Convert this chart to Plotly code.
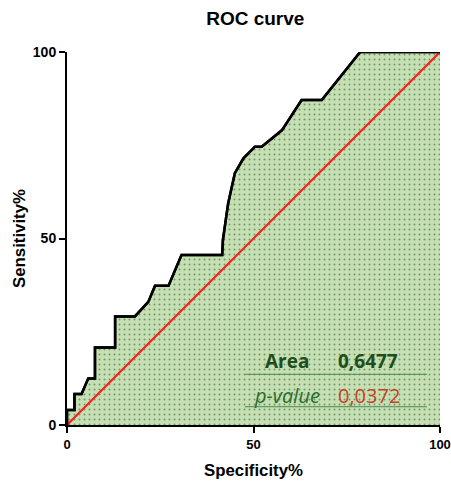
import plotly.graph_objects as go

# ROC curve points (Specificity%, Sensitivity%)
spec = [0, 0, 2.0, 2.0, 3.9, 5.7, 7.5, 7.5, 12.9, 12.9, 18.2, 21.8, 23.6, 27.2, 30.7,
        41.6, 41.8, 43.2, 45.0, 47.3, 50.4, 52.2, 57.6, 62.9, 68.3, 78.6, 100]
sens = [0, 4.0, 4.0, 8.3, 8.3, 12.5, 12.5, 20.8, 20.8, 29.1, 29.1, 33.0, 37.3, 37.3, 45.6,
        45.6, 49.6, 59.4, 67.5, 71.5, 74.6, 74.6, 79.0, 87.1, 87.1, 100, 100]
ref_x = [0, 100]
ref_y = [0, 100]
tick_vals = [0, 50, 100]
tick_text = ["0", "50", "100"]
area_label, area_value = "Area", "0,6477"
p_label, p_value = "p-value", "0,0372"

fig = go.Figure()
fig.add_trace(go.Scatter(
    x=spec, y=sens, mode="lines", fill="tozeroy",
    line=dict(color="black", width=2.5),
    fillcolor="#c6e0b4",
    fillpattern=dict(shape=".", bgcolor="#c6e0b4", fgcolor="#1a4a1a", size=5, solidity=0.12),
    hoverinfo="skip", showlegend=False))
fig.add_trace(go.Scatter(
    x=ref_x, y=ref_y, mode="lines", line=dict(color="#ff1a1a", width=2),
    showlegend=False, hoverinfo="skip"))
fig.add_trace(go.Scatter(
    x=spec, y=sens, mode="lines", line=dict(color="black", width=2.5),
    showlegend=False, hoverinfo="skip"))

ann_font = "Open Sans"
fig.add_annotation(x=59.1, y=17.2, xref="x", yref="y", text="<b>" + area_label + "</b>",
                   showarrow=False, font=dict(family=ann_font, size=19, color="#1e4d1e"))
fig.add_annotation(x=80.8, y=17.2, xref="x", yref="y", text="<b>" + area_value + "</b>",
                   showarrow=False, font=dict(family=ann_font, size=19, color="#1e4d1e"))
fig.add_annotation(x=59, y=8.0, xref="x", yref="y", text="<i>" + p_label + "</i>",
                   showarrow=False, font=dict(family=ann_font, size=20, color="#2d6a2d"))
fig.add_annotation(x=81, y=8.0, xref="x", yref="y", text=p_value,
                   showarrow=False, font=dict(family=ann_font, size=20, color="#c8402a"))
fig.add_shape(type="line", x0=47.7, x1=96.5, y0=13.6, y1=13.6, xref="x", yref="y",
              line=dict(color="#4a8a4a", width=1))
fig.add_shape(type="line", x0=47.7, x1=96.5, y0=4.9, y1=4.9, xref="x", yref="y",
              line=dict(color="#4a8a4a", width=1))

axis_common = dict(range=[0, 100], tickvals=tick_vals, ticktext=tick_text, automargin=False,
                   showgrid=False, zeroline=False, showline=True, linecolor="black",
                   linewidth=2, ticks="outside", ticklen=6, tickwidth=2, tickcolor="black")
fig.update_xaxes(**axis_common,
                 tickfont=dict(family="Liberation Sans", size=13, color="black", weight="bold"),
                 title=dict(text="<b>Specificity%</b>",
                            font=dict(family="Liberation Sans", size=16.8, color="black"), standoff=14))
fig.update_yaxes(**axis_common,
                 tickfont=dict(family="Liberation Sans", size=14, color="black", weight="bold"),
                 title=dict(text="<b>Sensitivity%</b>",
                            font=dict(family="Liberation Sans", size=16.8, color="black"), standoff=3))

fig.update_layout(
    width=451, height=481,
    margin=dict(l=67, r=11, t=52, b=56, autoexpand=False),
    paper_bgcolor="white", plot_bgcolor="white",
    title=dict(text="<b>ROC curve</b>", x=0.566, xanchor="center", y=0.9615, yanchor="middle",
               font=dict(family="Liberation Sans", size=19, color="black")),
)
fig.write_html("out.html", config={"displayModeBar": False},
               post_script="document.body.style.margin='0';document.body.style.overflow='hidden';")
